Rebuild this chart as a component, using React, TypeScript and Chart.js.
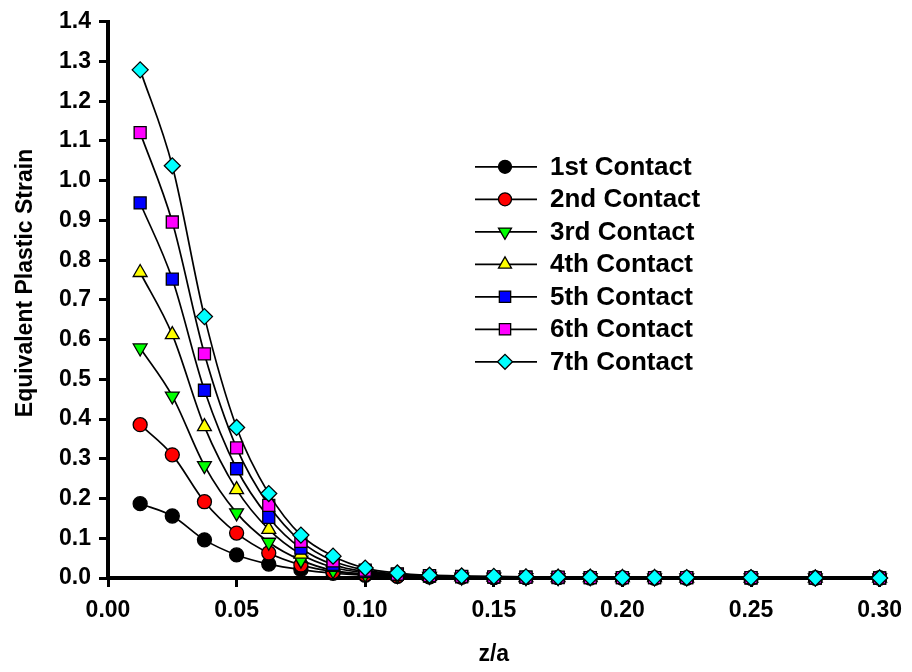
import React, { useEffect, useRef } from 'react';
import { Chart, registerables } from 'chart.js';
import { drawPoint } from 'chart.js/helpers';

Chart.register(...registerables);

const FONT = "'Liberation Sans', Arial, sans-serif";

const zOverA = [0.0125, 0.025, 0.0375, 0.05, 0.0625, 0.075, 0.0875, 0.1, 0.1125, 0.125, 0.1375, 0.15, 0.1625, 0.175, 0.1875, 0.2, 0.2125, 0.225, 0.25, 0.275, 0.3];

const contact1 = [0.187, 0.156, 0.096, 0.058, 0.035, 0.021, 0.012, 0.007, 0.004, 0.003, 0.002, 0.001, 0.001, 0.001, 0, 0, 0, 0, 0, 0, 0];
const contact2 = [0.386, 0.31, 0.192, 0.113, 0.063, 0.033, 0.016, 0.009, 0.005, 0.003, 0.002, 0.001, 0.001, 0.001, 0.001, 0, 0, 0, 0, 0, 0];
const contact3 = [0.579, 0.458, 0.283, 0.164, 0.09, 0.045, 0.019, 0.01, 0.006, 0.004, 0.002, 0.002, 0.001, 0.001, 0.001, 0.001, 0, 0, 0, 0, 0];
const contact4 = [0.769, 0.6125, 0.381, 0.2225, 0.1225, 0.06, 0.027, 0.013, 0.007, 0.004, 0.003, 0.002, 0.001, 0.001, 0.001, 0.001, 0.001, 0, 0, 0, 0];
const contact5 = [0.944, 0.7525, 0.4725, 0.275, 0.1525, 0.075, 0.034, 0.016, 0.009, 0.005, 0.003, 0.002, 0.002, 0.001, 0.001, 0.001, 0.001, 0.001, 0, 0, 0];
const contact6 = [1.121, 0.896, 0.564, 0.3275, 0.183, 0.092, 0.043, 0.02, 0.01, 0.006, 0.004, 0.003, 0.002, 0.002, 0.001, 0.001, 0.001, 0.001, 0.001, 0, 0];
const contact7 = [1.279, 1.0375, 0.658, 0.379, 0.2125, 0.108, 0.055, 0.025, 0.0125, 0.007, 0.005, 0.004, 0.003, 0.002, 0.002, 0.001, 0.001, 0.001, 0.001, 0, 0];

const seriesLabels = ['1st Contact', '2nd Contact', '3rd Contact', '4th Contact', '5th Contact', '6th Contact', '7th Contact'];
const seriesValues = [contact1, contact2, contact3, contact4, contact5, contact6, contact7];
const seriesColors = ['#000000', '#FF0000', '#00FF00', '#FFFF00', '#0000FF', '#FF00FF', '#00FFFF'];
const seriesStyles = ['circle', 'circle', 'triangle', 'triangle', 'rect', 'rect', 'rectRot'];
const seriesRotations = [0, 0, 180, 0, 0, 0, 0];
const seriesRadii = [7, 7, 8, 8, 8.5, 8.5, 8];

const xTitle = 'z/a';
const yTitle = 'Equivalent Plastic Strain';

const legendPlugin = {
  id: 'lineLegend',
  afterDraw(chart: any) {
    const ctx = chart.ctx as CanvasRenderingContext2D;
    const area = chart.chartArea;
    const lineX0 = area.left + 367;
    const lineX1 = area.left + 429;
    const markX = area.left + 397;
    const textX = area.left + 442;
    const y0 = area.top + 145;
    const step = 32.5;
    ctx.save();
    seriesLabels.forEach((label, i) => {
      const y = y0 + i * step;
      ctx.strokeStyle = '#000';
      ctx.lineWidth = 1.7;
      ctx.beginPath();
      ctx.moveTo(lineX0, y);
      ctx.lineTo(lineX1, y);
      ctx.stroke();
      ctx.fillStyle = seriesColors[i];
      ctx.strokeStyle = '#000';
      ctx.lineWidth = 1.3;
      drawPoint(ctx, {
        pointStyle: seriesStyles[i],
        rotation: seriesRotations[i],
        radius: seriesRadii[i] - 0.5,
        borderWidth: 1.3,
      } as any, markX, y);
      ctx.fillStyle = '#000';
      ctx.font = `bold 26px ${FONT}`;
      ctx.textAlign = 'left';
      ctx.textBaseline = 'middle';
      ctx.fillText(label, textX, y + 1);
    });
    ctx.save();
    ctx.translate(26, 283);
    ctx.rotate(-Math.PI / 2);
    ctx.fillStyle = '#000';
    ctx.font = `bold 23px ${FONT}`;
    ctx.textAlign = 'center';
    ctx.textBaseline = 'middle';
    ctx.fillText(yTitle, 0, 0);
    ctx.restore();
    ctx.restore();
  },
};

export default function App() {
  const ref = useRef<HTMLCanvasElement>(null);

  useEffect(() => {
    if (!ref.current) return;
    const datasets = seriesValues.map((vals, i) => ({
      label: seriesLabels[i],
      data: vals.map((v, j) => ({ x: zOverA[j], y: v })),
      borderColor: '#000',
      borderWidth: 1.7,
      backgroundColor: seriesColors[i],
      pointBackgroundColor: seriesColors[i],
      pointBorderColor: '#000',
      pointBorderWidth: 1.3,
      pointStyle: seriesStyles[i],
      pointRotation: seriesRotations[i],
      pointRadius: seriesRadii[i],
      cubicInterpolationMode: 'monotone' as const,
      fill: false,
      clip: false as any,
      order: 6 - i,
    }));

    const chart = new Chart(ref.current, {
      type: 'line',
      data: { datasets },
      options: {
        responsive: false,
        animation: false,
        layout: { padding: { top: 18, right: 26, bottom: 0, left: 0 } },
        plugins: { legend: { display: false }, tooltip: { enabled: false } },
        scales: {
          x: {
            type: 'linear',
            min: 0,
            max: 0.3,
            ticks: {
              stepSize: 0.05,
              callback: (v: any) => Number(v).toFixed(2),
              font: { family: FONT, size: 23, weight: 'bold' },
              color: '#000',
              padding: 10,
              maxRotation: 0,
            },
            grid: { drawOnChartArea: false, drawTicks: true, tickLength: 9, tickWidth: 3, tickColor: '#000' },
            border: { display: true, color: '#000', width: 4 },
            title: {
              display: true,
              text: xTitle,
              font: { family: FONT, size: 23, weight: 'bold' },
              color: '#000',
              padding: { top: 0, bottom: 4 },
            },
            afterFit: (s: any) => { s.height = 94; },
          },
          y: {
            type: 'linear',
            min: 0,
            max: 1.4,
            ticks: {
              stepSize: 0.1,
              callback: (v: any) => Number(v).toFixed(1),
              font: { family: FONT, size: 23, weight: 'bold' },
              color: '#000',
              padding: 8,
            },
            grid: { drawOnChartArea: false, drawTicks: true, tickLength: 9, tickWidth: 3, tickColor: '#000' },
            border: { display: true, color: '#000', width: 4 },
            afterFit: (s: any) => { s.width = 108; },
          },
        },
      },
      plugins: [legendPlugin],
    });
    return () => chart.destroy();
  }, []);

  return (
    <div style={{ position: 'absolute', left: 0, top: 0, width: 912, height: 672, background: '#fff' }}>
      <canvas ref={ref} width={912} height={672} style={{ display: 'block' }} />
    </div>
  );
}
